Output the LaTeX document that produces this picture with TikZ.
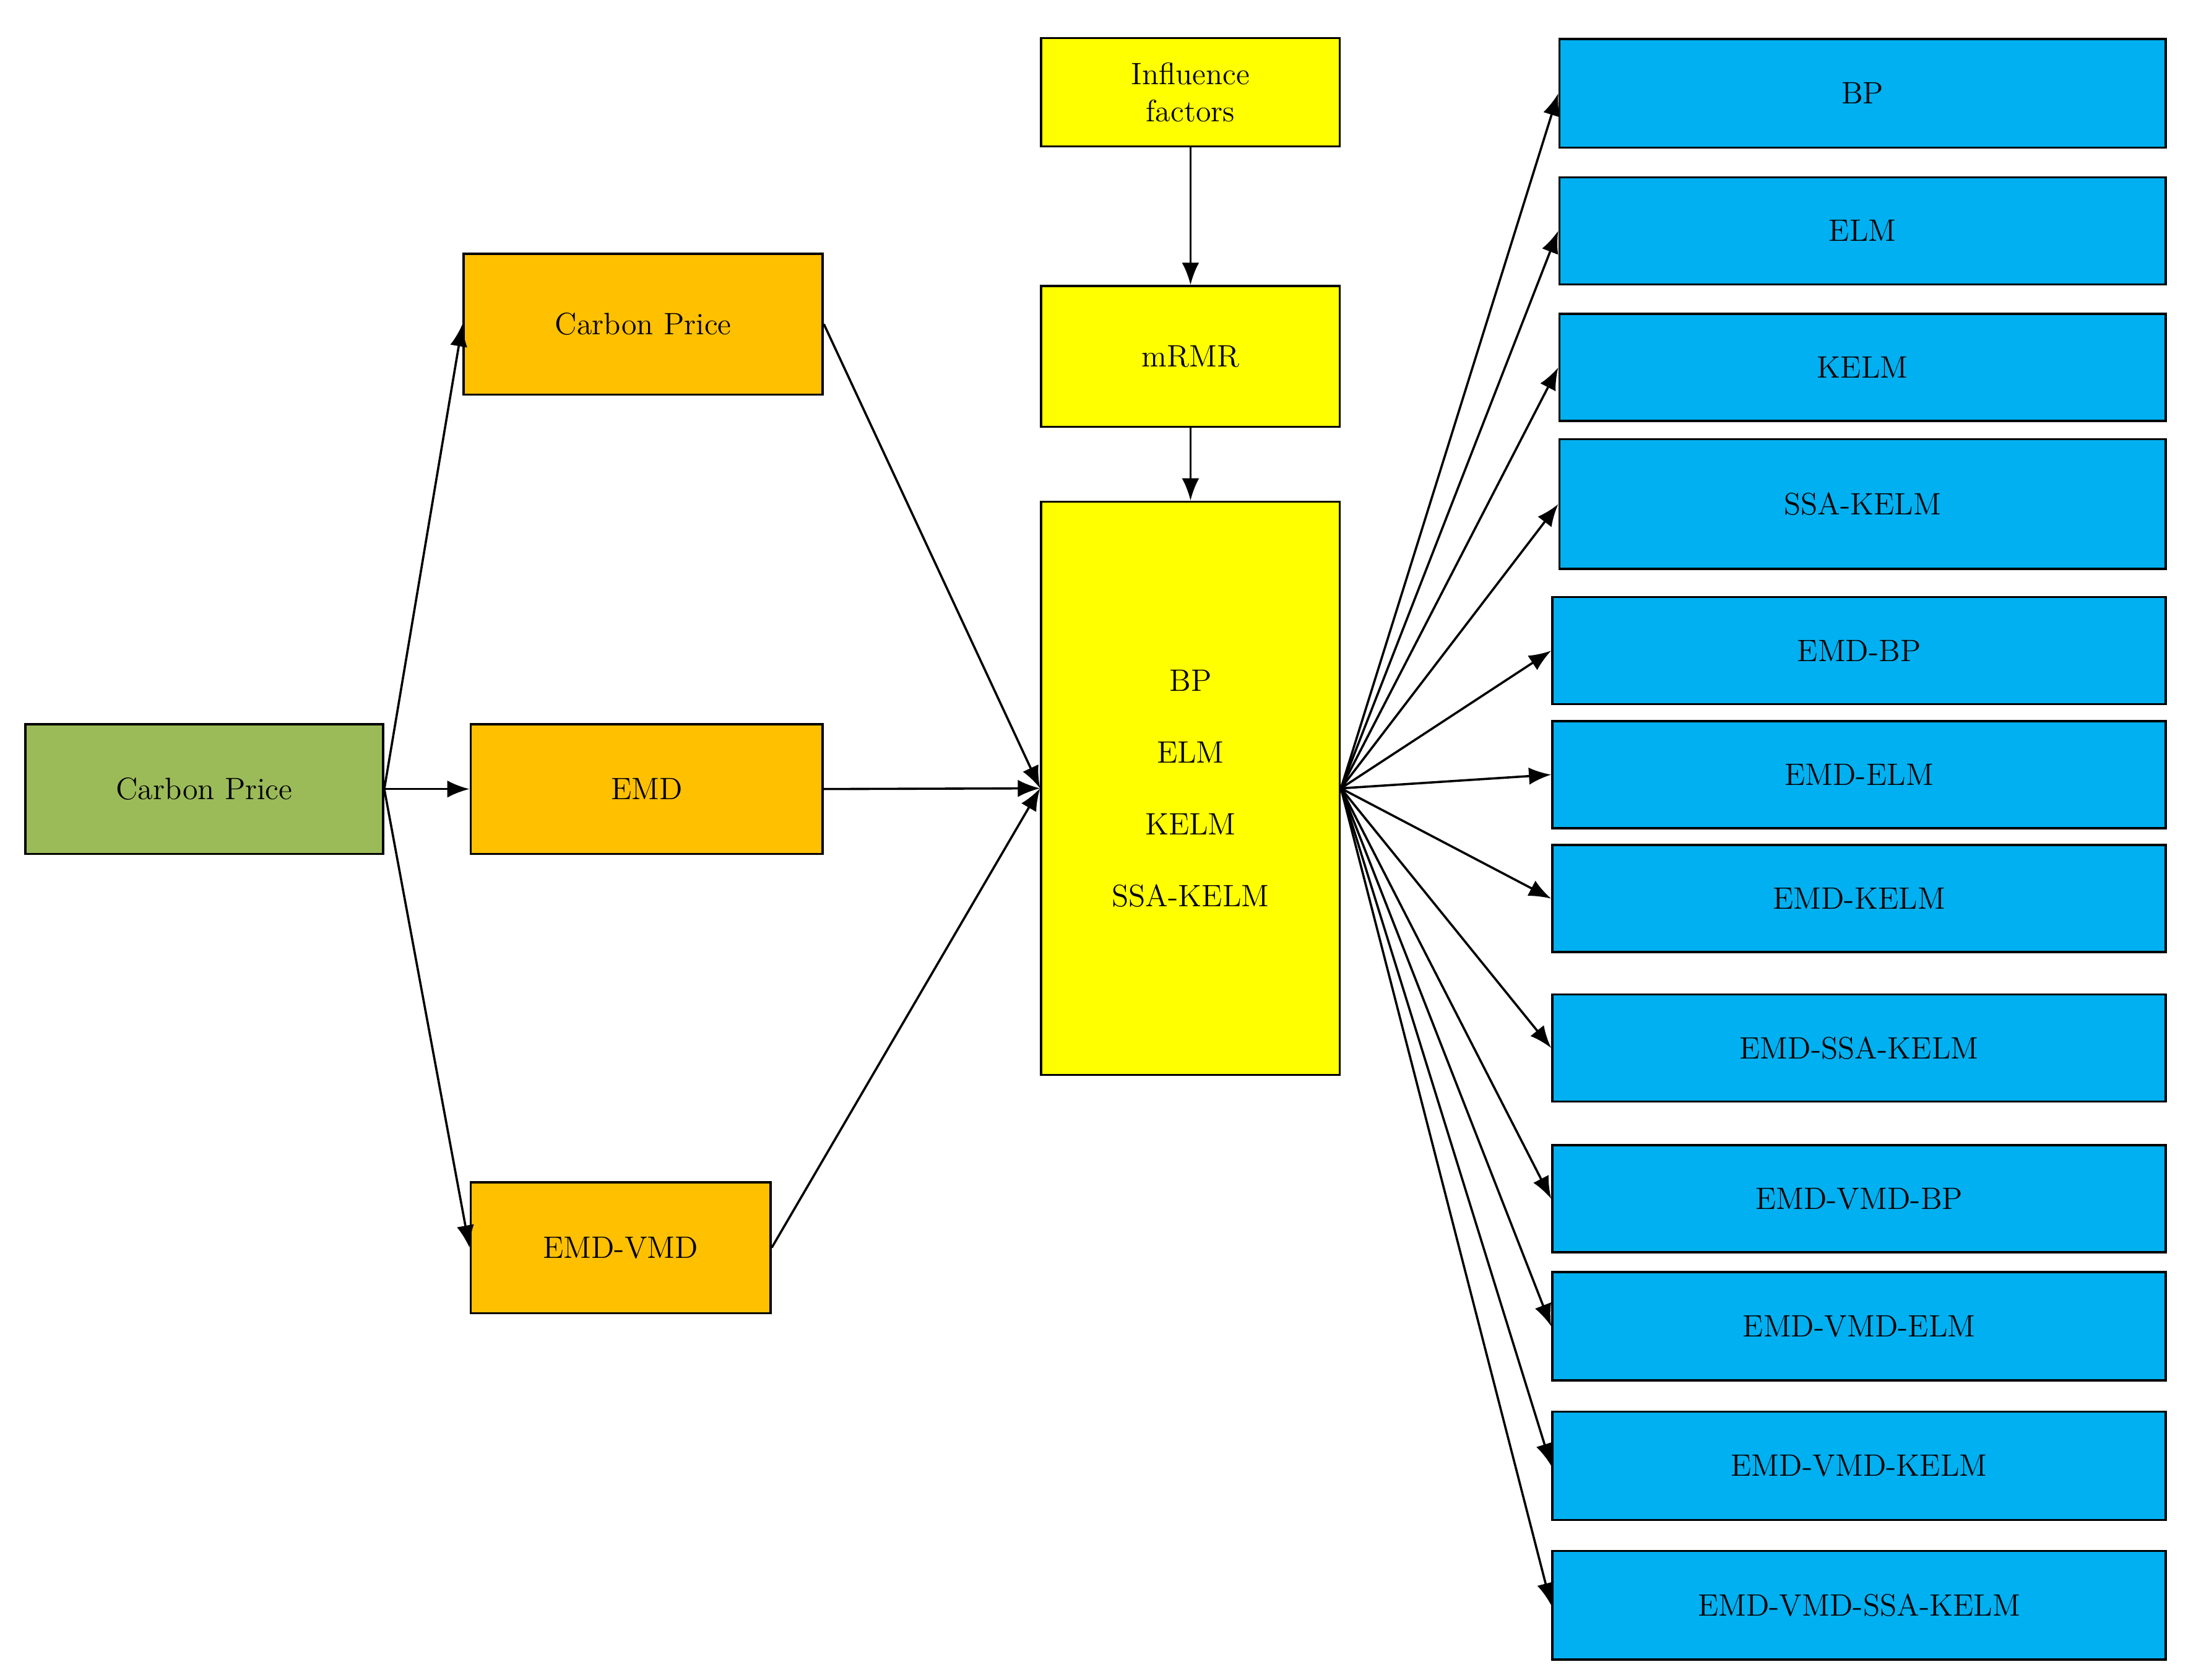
\documentclass[tikz,border=0pt]{standalone}
\usepackage{tikz}
\usetikzlibrary{arrows.meta, positioning}

\definecolor{cpgreen}{HTML}{9BBB59}
\definecolor{deorange}{HTML}{FFC000}
\definecolor{mdyellow}{HTML}{FFFF00}
\definecolor{resblue}{HTML}{00B0F0}

\tikzset{
  box/.style={draw, line width=0.9pt, inner sep=0pt, align=center,
    font=\fontsize{12.5}{15}\selectfont},
  link/.style={line width=0.9pt, -{Latex[length=9pt,width=7pt]}}
}

\begin{document}
\begin{tikzpicture}[x=0.02cm,y=-0.02cm]
      \useasboundingbox (0,0) rectangle (1553,1192);
      % input and decompositions
      \node[box, fill=cpgreen, minimum width=5.08cm, minimum height=1.84cm] (cp) at (145,560) {Carbon Price};
      \node[box, fill=deorange, minimum width=5.1cm, minimum height=2cm] (raw) at (456.5,230) {Carbon Price};
      \node[box, fill=deorange, minimum width=5cm, minimum height=1.84cm] (emd) at (459,560) {EMD};
      \node[box, fill=deorange, minimum width=4.26cm, minimum height=1.86cm] (emdvmd) at (440.5,885.5) {EMD-VMD};

      % feature selection and models
      \node[box, fill=mdyellow, minimum width=4.24cm, minimum height=1.54cm] (infl) at (845,65.5) {Influence\\factors};
      \node[box, fill=mdyellow, minimum width=4.24cm, minimum height=2cm] (mrmr) at (845,253) {mRMR};
      \node[box, fill=mdyellow, minimum width=4.24cm, minimum height=8.14cm] (models) at (845,559.5)
            {BP\\[14pt]ELM\\[14pt]KELM\\[14pt]SSA-KELM};

      % results
      \foreach \name/\txt/\xl/\yt/\yb in {
            r1/BP/1106/27/104, r2/ELM/1106/125/201, r3/KELM/1106/222/298,
            r4/SSA-KELM/1106/311/403, r5/EMD-BP/1101/423/499, r6/EMD-ELM/1101/511/587,
            r7/EMD-KELM/1101/599/675, r8/EMD-SSA-KELM/1101/705/781,
            r9/EMD-VMD-BP/1101/812/888, r10/EMD-VMD-ELM/1101/902/979,
            r11/EMD-VMD-KELM/1101/1001/1078, r12/EMD-VMD-SSA-KELM/1101/1100/1177}
      {
        \node[box, fill=resblue, anchor=north west, minimum width={(1536.5-\xl)*0.02cm},
              minimum height={(\yb-\yt)*0.02cm}] (\name) at (\xl,\yt) {\txt};
        \draw[link] (models.east) -- (\name.west);
      }

      \draw[link] (cp.east) -- (raw.west);
      \draw[link] (cp.east) -- (emd.west);
      \draw[link] (cp.east) -- (emdvmd.west);
      \draw[link] (raw.east) -- (models.west);
      \draw[link] (emd.east) -- (models.west);
      \draw[link] (emdvmd.east) -- (models.west);
      \draw[link] (infl) -- (mrmr);
      \draw[link] (mrmr) -- (models);
\end{tikzpicture}
\end{document}
